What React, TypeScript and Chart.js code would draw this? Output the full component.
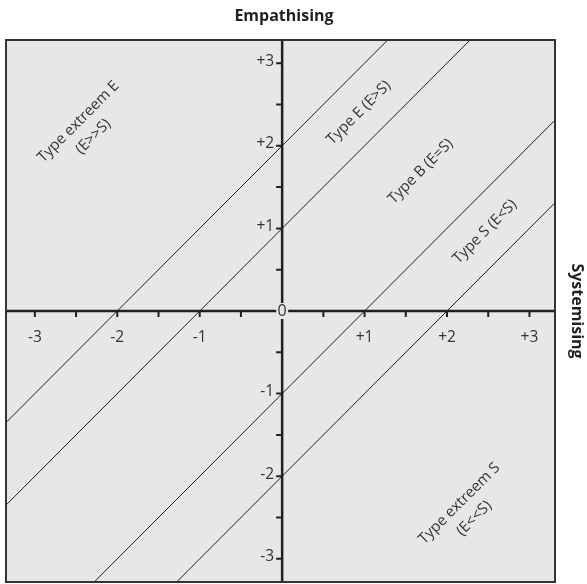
import React, { useEffect, useRef } from "react";
import { Chart, registerables } from "chart.js";

Chart.register(...registerables);

// ---- data ----
const xRange = [-3.35, 3.31];
const yRange = [-3.28, 3.28];

const xTickValues = [-3, -2, -1, 1, 2, 3];
const xTickLabels = ["-3", "-2", "-1", "+1", "+2", "+3"];
const yTickValues = [3, 2, 1, -1, -2, -3];
const yTickLabels = ["+3", "+2", "+1", "-1", "-2", "-3"];
const minorTickValues = [-3, -2.5, -2, -1.5, -1, -0.5, 0.5, 1, 1.5, 2, 2.5, 3];

// boundary lines (E - S = +2, +1, -1, -2)
const lineExtremeE = [{ x: -3.35, y: -1.35 }, { x: 1.28, y: 3.28 }];
const lineTypeE = [{ x: -3.35, y: -2.35 }, { x: 2.28, y: 3.28 }];
const lineTypeS = [{ x: -2.28, y: -3.28 }, { x: 3.31, y: 2.31 }];
const lineExtremeS = [{ x: -1.28, y: -3.28 }, { x: 3.31, y: 1.31 }];

// region labels (text lines, anchor in data coords)
const regionLabels = [
  { lines: ["Type extreem E", "(E>>S)"], x: -2.38, y: 2.2 },
  { lines: ["Type E (E>S)"], x: 0.93, y: 2.4 },
  { lines: ["Type B (E=S)"], x: 1.68, y: 1.69 },
  { lines: ["Type S (E<S)"], x: 2.46, y: 0.96 },
  { lines: ["Type extreem S", "(E<<S)"], x: 2.24, y: -2.42 },
];

const topTitle = "Empathising";
const sideTitle = "Systemising";

const INK = "#231f20";
const FONT = "'Open Sans', 'Noto Sans', sans-serif";

const decorPlugin = {
  id: "decor",
  beforeDatasetsDraw(chart: any) {
    const { ctx, chartArea } = chart;
    ctx.save();
    ctx.fillStyle = "#e6e7e8";
    ctx.fillRect(chartArea.left, chartArea.top, chartArea.right - chartArea.left, chartArea.bottom - chartArea.top);
    ctx.restore();
  },
  afterDatasetsDraw(chart: any) {
    const { ctx, chartArea } = chart;
    const xs = chart.scales.x;
    const ys = chart.scales.y;
    const x0 = xs.getPixelForValue(0);
    const y0 = ys.getPixelForValue(0);
    ctx.save();
    // axes
    ctx.strokeStyle = INK;
    ctx.lineWidth = 2.5;
    ctx.beginPath();
    ctx.moveTo(chartArea.left, y0);
    ctx.lineTo(chartArea.right, y0);
    ctx.moveTo(x0, chartArea.top);
    ctx.lineTo(x0, chartArea.bottom);
    ctx.stroke();
    // minor/major ticks
    ctx.lineWidth = 2;
    ctx.beginPath();
    minorTickValues.forEach((v) => {
      const px = xs.getPixelForValue(v);
      ctx.moveTo(px, y0);
      ctx.lineTo(px, y0 + 6);
      const py = ys.getPixelForValue(v);
      ctx.moveTo(x0, py);
      ctx.lineTo(x0 - 6, py);
    });
    ctx.stroke();
    // tick labels
    ctx.fillStyle = "#333";
    ctx.font = `15.5px ${FONT}`;
    ctx.textAlign = "center";
    ctx.textBaseline = "middle";
    xTickValues.forEach((v, i) => {
      ctx.fillText(xTickLabels[i], xs.getPixelForValue(v), y0 + 27);
    });
    ctx.textAlign = "right";
    yTickValues.forEach((v, i) => {
      ctx.fillText(yTickLabels[i], x0 - 8, ys.getPixelForValue(v) - 2);
    });
    // origin label
    ctx.fillStyle = "#e6e7e8";
    ctx.fillRect(x0 - 6, y0 - 8, 12, 16);
    ctx.fillStyle = "#333";
    ctx.textAlign = "center";
    ctx.font = `16px ${FONT}`;
    ctx.fillText("0", x0, y0);
    // region labels
    ctx.font = `15px ${FONT}`;
    ctx.fillStyle = "#333";
    regionLabels.forEach((lab) => {
      const px = xs.getPixelForValue(lab.x);
      const py = ys.getPixelForValue(lab.y);
      ctx.save();
      ctx.translate(px, py);
      ctx.rotate(-Math.PI / 4);
      const lh = 21;
      const n = lab.lines.length;
      lab.lines.forEach((t, i) => {
        ctx.fillText(t, 0, (i - (n - 1) / 2) * lh);
      });
      ctx.restore();
    });
    // border
    ctx.strokeStyle = "#333";
    ctx.lineWidth = 2;
    ctx.strokeRect(chartArea.left, chartArea.top, chartArea.right - chartArea.left, chartArea.bottom - chartArea.top);
    // titles
    ctx.fillStyle = INK;
    ctx.font = `bold 16px ${FONT}`;
    ctx.textAlign = "center";
    ctx.fillText(topTitle, 284, 16);
    ctx.save();
    ctx.translate(577, y0);
    ctx.rotate(Math.PI / 2);
    ctx.fillText(sideTitle, 0, 0);
    ctx.restore();
    ctx.restore();
  },
};

export default function App() {
  const ref = useRef<HTMLCanvasElement>(null);
  useEffect(() => {
    if (!ref.current) return;
    const lineStyle = { borderColor: INK, borderWidth: 1, pointRadius: 0, showLine: true, fill: false };
    const chart = new Chart(ref.current, {
      type: "scatter",
      data: {
        datasets: [
          { label: "E-S=+2", data: lineExtremeE, ...lineStyle },
          { label: "E-S=+1", data: lineTypeE, ...lineStyle },
          { label: "E-S=-1", data: lineTypeS, ...lineStyle },
          { label: "E-S=-2", data: lineExtremeS, ...lineStyle },
        ],
      },
      options: {
        animation: false,
        responsive: false,
        layout: { padding: { left: 6, top: 40, right: 32, bottom: 2 } },
        plugins: { legend: { display: false }, tooltip: { enabled: false }, title: { display: false } },
        scales: {
          x: { type: "linear", display: false, min: xRange[0], max: xRange[1] },
          y: { type: "linear", display: false, min: yRange[0], max: yRange[1] },
        },
      },
      plugins: [decorPlugin],
    } as any);
    return () => chart.destroy();
  }, []);
  return (
    <div style={{ position: "fixed", left: 0, top: 0, width: 587, height: 584, background: "#fff" }}>
      <canvas ref={ref} width={587} height={584} style={{ display: "block" }} />
    </div>
  );
}
